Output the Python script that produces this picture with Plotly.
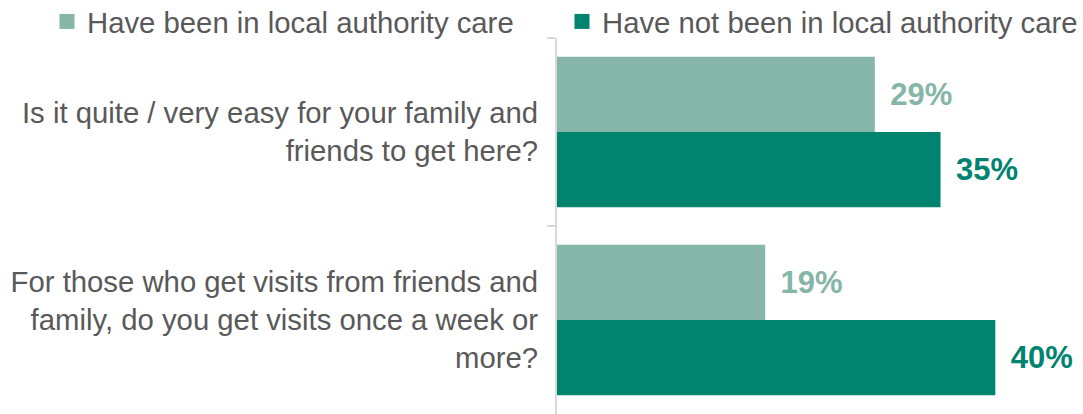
import plotly.graph_objects as go

categories = [
    "Is it quite / very easy for your family and<br>friends to get here?",
    "For those who get visits from friends and<br>family, do you get visits once a week or<br>more?",
]
series_names = ["Have been in local authority care", "Have not been in local authority care"]
been_in_care = [29, 19]
not_in_care = [35, 40]
colors = ["#85B6A8", "#00836F"]

FONT = "Liberation Sans, Arial, sans-serif"
GREY = "#595959"

fig = go.Figure()
for name, vals, col in zip(series_names, [been_in_care, not_in_care], colors):
    fig.add_trace(go.Bar(
        y=categories, x=vals, name=name, orientation="h",
        marker=dict(color=col, line=dict(width=0)),
        texttemplate="\u2009\u2009%{x}%", textposition="outside",
        textfont=dict(family=FONT, size=31, color=col, weight="bold"),
        cliponaxis=False, hoverinfo="skip", showlegend=False,
    ))

# legend keys: square swatches
for name, col in zip(series_names, colors):
    fig.add_trace(go.Scatter(
        x=[None], y=[None], mode="markers", name=name,
        marker=dict(symbol="square", size=15, color=col),
        showlegend=True, hoverinfo="skip",
    ))

fig.update_layout(
    width=1083, height=414,
    margin=dict(l=557, r=0, t=38, b=0, autoexpand=False),
    barmode="group", bargap=0.2, bargroupgap=0,
    paper_bgcolor="white", plot_bgcolor="white",
    font=dict(family=FONT, size=29.3, color=GREY),
    showlegend=True,
    legend=dict(
        orientation="h", x=-0.9696, xanchor="left", y=1.112, yanchor="top",
        font=dict(family=FONT, size=29.3, color=GREY),
        entrywidth=470, itemwidth=30, itemsizing="trace", traceorder="normal",
        bgcolor="rgba(0,0,0,0)",
    ),
    xaxis=dict(range=[0, 48], visible=False, fixedrange=True),
    yaxis=dict(
        autorange="reversed", showline=True, linecolor="#D9D9D9", linewidth=2,
        ticks="outside", ticklen=8, tickwidth=2, tickcolor="#D9D9D9",
        tickson="boundaries", ticklabelstandoff=11,
        tickfont=dict(family=FONT, size=29.3, color=GREY),
        showgrid=False, zeroline=False,
    ),
)

fig.write_html("out.html")
